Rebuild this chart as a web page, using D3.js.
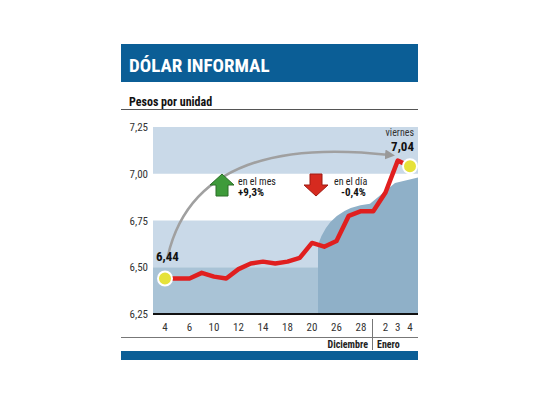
<!DOCTYPE html>
<html><head><meta charset="utf-8">
<script src="https://cdn.jsdelivr.net/npm/d3@7"></script>
<style>body{margin:0;background:#fff}text{font-family:"Roboto Condensed","Liberation Sans Narrow",Roboto,sans-serif}</style>
</head><body><svg id="c" width="540" height="405"></svg>
<script>
const values=[6.44,6.44,6.44,6.47,6.45,6.44,6.49,6.52,6.53,6.52,6.53,6.55,6.63,6.61,6.64,6.775,6.80,6.80,6.90,7.07,7.04];
const tickIdx=[0,2,4,6,8,10,12,14,16,18,19,20];
const tickLabels=["4","6","10","12","14","18","20","26","28","2","3","4"];
const yTicks=[6.25,6.50,6.75,7.00,7.25];
const svg=d3.select("#c");
const x=d3.scaleLinear().domain([0,20]).range([165,410]);
const y=d3.scaleLinear().domain([6.25,7.25]).range([314,127]);
const fmt=v=>v.toFixed(2).replace(".",",");
// header
svg.append("rect").attr("x",121).attr("y",44).attr("width",297).attr("height",38).attr("fill","#0b5e96");
svg.append("text").attr("x",129).attr("y",72).attr("fill","#fff").attr("font-size",19).attr("font-weight","bold").text("DÓLAR INFORMAL");
svg.append("text").attr("x",129).attr("y",106).attr("font-size",12).attr("font-weight","bold").attr("fill","#111").text("Pesos por unidad");
svg.append("line").attr("x1",121).attr("x2",418).attr("y1",109.5).attr("y2",109.5).attr("stroke","#555");
// bands
[[7.00,7.25],[6.50,6.75]].forEach(b=>svg.append("rect").attr("x",153).attr("width",265).attr("y",y(b[1])).attr("height",y(b[0])-y(b[1])).attr("fill","#c9d9e8"));
// dollar area approximation
svg.append("rect").attr("x",153).attr("width",265).attr("y",y(6.50)).attr("height",y(6.25)-y(6.50)).attr("fill","#a9c3d6");
svg.append("path").attr("d",`M318,${y(6.25)} L318,${y(6.62)} Q330,${y(6.82)} 370,${y(6.84)} L395,${y(6.95)} L418,${y(6.98)} L418,${y(6.25)}Z`).attr("fill","#8fb0c8");
// y axis labels
yTicks.forEach(t=>svg.append("text").attr("x",148).attr("y",y(t)+4).attr("text-anchor","end").attr("font-size",11).attr("fill","#333").text(fmt(t)));
svg.append("line").attr("x1",153).attr("x2",418).attr("y1",y(6.25)).attr("y2",y(6.25)).attr("stroke","#111").attr("stroke-width",2);
// x labels
tickIdx.forEach((i,k)=>svg.append("text").attr("x",x(i)).attr("y",331).attr("text-anchor","middle").attr("font-size",11).attr("fill","#333").text(tickLabels[k]));
svg.append("line").attr("x1",121).attr("x2",418).attr("y1",337.5).attr("y2",337.5).attr("stroke","#777");
svg.append("line").attr("x1",372.5).attr("x2",372.5).attr("y1",319).attr("y2",350).attr("stroke","#777");
svg.append("text").attr("x",368).attr("y",348).attr("text-anchor","end").attr("font-size",10).attr("font-weight","bold").attr("fill","#222").text("Diciembre");
svg.append("text").attr("x",377).attr("y",348).attr("font-size",10).attr("font-weight","bold").attr("fill","#222").text("Enero");
svg.append("rect").attr("x",121).attr("y",351).attr("width",297).attr("height",9).attr("fill","#0b5e96");
// arc arrow
svg.append("defs").append("marker").attr("id","ah").attr("viewBox","0 0 10 10").attr("refX",5).attr("refY",5).attr("markerWidth",4).attr("markerHeight",4).attr("orient","auto").append("path").attr("d","M0,0L10,5L0,10Z").attr("fill","#999");
svg.append("path").attr("d",`M167,${y(6.54)} C185,${y(7.0)} 260,${y(7.18)} 390,${y(7.10)}`).attr("fill","none").attr("stroke","#a0a0a0").attr("stroke-width",2.5).attr("marker-end","url(#ah)");
// line
svg.append("path").datum(values).attr("d",d3.line().x((d,i)=>x(i)).y(d=>y(d))).attr("fill","none").attr("stroke","#e01f1f").attr("stroke-width",4.5).attr("stroke-linejoin","round");
[0,20].forEach(i=>svg.append("circle").attr("cx",x(i)).attr("cy",y(values[i])).attr("r",7).attr("fill","#e6e23a").attr("stroke","#fff").attr("stroke-width",2));
svg.append("text").attr("x",156).attr("y",y(6.54)+1).attr("font-size",13).attr("font-weight","bold").attr("fill","#111").text(fmt(values[0]));
svg.append("text").attr("x",414).attr("y",136).attr("text-anchor","end").attr("font-size",10).attr("fill","#333").text("viernes");
svg.append("text").attr("x",414).attr("y",151).attr("text-anchor","end").attr("font-size",13).attr("font-weight","bold").attr("fill","#111").text(fmt(values[20]));
// arrows
svg.append("path").attr("d","M222,174 L234,185 L228,185 L228,196 L216,196 L216,185 L210,185Z").attr("fill","#3e9b3a").attr("stroke","#2a6e27");
svg.append("path").attr("d","M316,196 L328,185 L322,185 L322,174 L310,174 L310,185 L304,185Z").attr("fill","#d62a1f").attr("stroke","#9e1a12");
svg.append("text").attr("x",238).attr("y",185).attr("font-size",10).attr("fill","#222").text("en el mes");
svg.append("text").attr("x",238).attr("y",196).attr("font-size",11).attr("font-weight","bold").attr("fill","#111").text("+9,3%");
svg.append("text").attr("x",334).attr("y",185).attr("font-size",10).attr("fill","#222").text("en el día");
svg.append("text").attr("x",341).attr("y",196).attr("font-size",11).attr("font-weight","bold").attr("fill","#111").text("-0,4%");
</script></body></html>
